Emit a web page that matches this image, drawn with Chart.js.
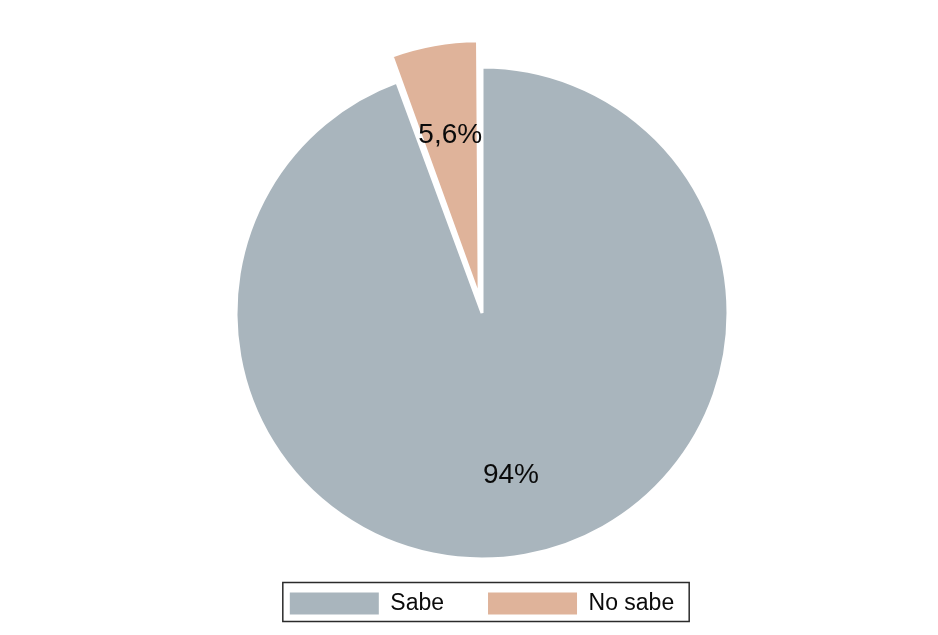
<!DOCTYPE html>
<html>
<head>
<meta charset="utf-8">
<title>Sabe / No sabe</title>
<script src="https://cdn.jsdelivr.net/npm/chart.js@4.4.1/dist/chart.umd.min.js"></script>
<style>
  html, body { margin: 0; padding: 0; background: #fff; }
  #wrap { width: 938px; height: 635px; position: relative; }
</style>
</head>
<body>
<div id="wrap"><canvas id="pie"></canvas></div>
<script>
// respuestas y porcentajes
const categories = ['Sabe', 'No sabe'];
const percents = [94, 5.6];
const sliceColors = ['#a9b5bd', '#dfb39a'];
const explode = [0, 64]; // Chart.js arc offset, the slice moves offset/4 px

function fmtPct(v) {
  return String(v).replace('.', ',') + '%';
}

// porcentaje dentro de cada sector
const sliceLabels = {
  id: 'sliceLabels',
  afterDatasetsDraw(chart) {
    const ctx = chart.ctx;
    const meta = chart.getDatasetMeta(0);
    ctx.save();
    ctx.font = '28px "Liberation Sans", Arial, sans-serif';
    ctx.fillStyle = '#0a0a0a';
    ctx.textAlign = 'center';
    ctx.textBaseline = 'middle';
    meta.data.forEach((arc, i) => {
      const p = arc.getProps(['x', 'y', 'startAngle', 'endAngle', 'outerRadius'], true);
      const mid = (p.startAngle + p.endAngle) / 2;
      const shift = (arc.options.offset || 0) / 4;
      const r = p.outerRadius * 0.67 + shift;
      ctx.fillText(fmtPct(percents[i]), p.x + Math.cos(mid) * r, p.y + Math.sin(mid) * r);
    });
    ctx.restore();
  }
};

// marco alrededor de la leyenda
const legendFrame = {
  id: 'legendFrame',
  afterDraw(chart) {
    const lg = chart.legend;
    if (!lg || !lg.legendHitBoxes.length) return;
    const boxes = lg.legendHitBoxes;
    const first = boxes[0], last = boxes[boxes.length - 1];
    const cy = first.top + first.height / 2;
    const x0 = first.left - 7;
    const x1 = last.left + last.width + 15;
    const ctx = chart.ctx;
    ctx.save();
    ctx.strokeStyle = '#2b2b2b';
    ctx.lineWidth = 1.5;
    ctx.strokeRect(x0, cy - 21, x1 - x0, 39);
    ctx.restore();
  }
};

new Chart(document.getElementById('pie'), {
  type: 'pie',
  data: {
    labels: categories,
    datasets: [{
      data: percents,
      backgroundColor: sliceColors,
      borderColor: '#ffffff',
      borderWidth: 3,
      offset: explode,
      radius: 246,
      clip: false
    }]
  },
  options: {
    responsive: true,
    maintainAspectRatio: false,
    animation: false,
    events: [],
    layout: { padding: { top: 78, left: 26, right: 0, bottom: 10 } },
    plugins: {
      tooltip: { enabled: false },
      legend: {
        position: 'bottom',
        labels: {
          boxWidth: 89,
          boxHeight: 22,
          padding: 44,
          color: '#0a0a0a',
          font: { family: '"Liberation Sans", Arial, sans-serif', size: 23 },
          generateLabels(chart) {
            const items = Chart.overrides.pie.plugins.legend.labels.generateLabels(chart);
            return items.map(it => Object.assign(it, { lineWidth: 0, strokeStyle: 'rgba(0,0,0,0)' }));
          }
        }
      }
    }
  },
  plugins: [sliceLabels, legendFrame]
});
</script>
</body>
</html>
